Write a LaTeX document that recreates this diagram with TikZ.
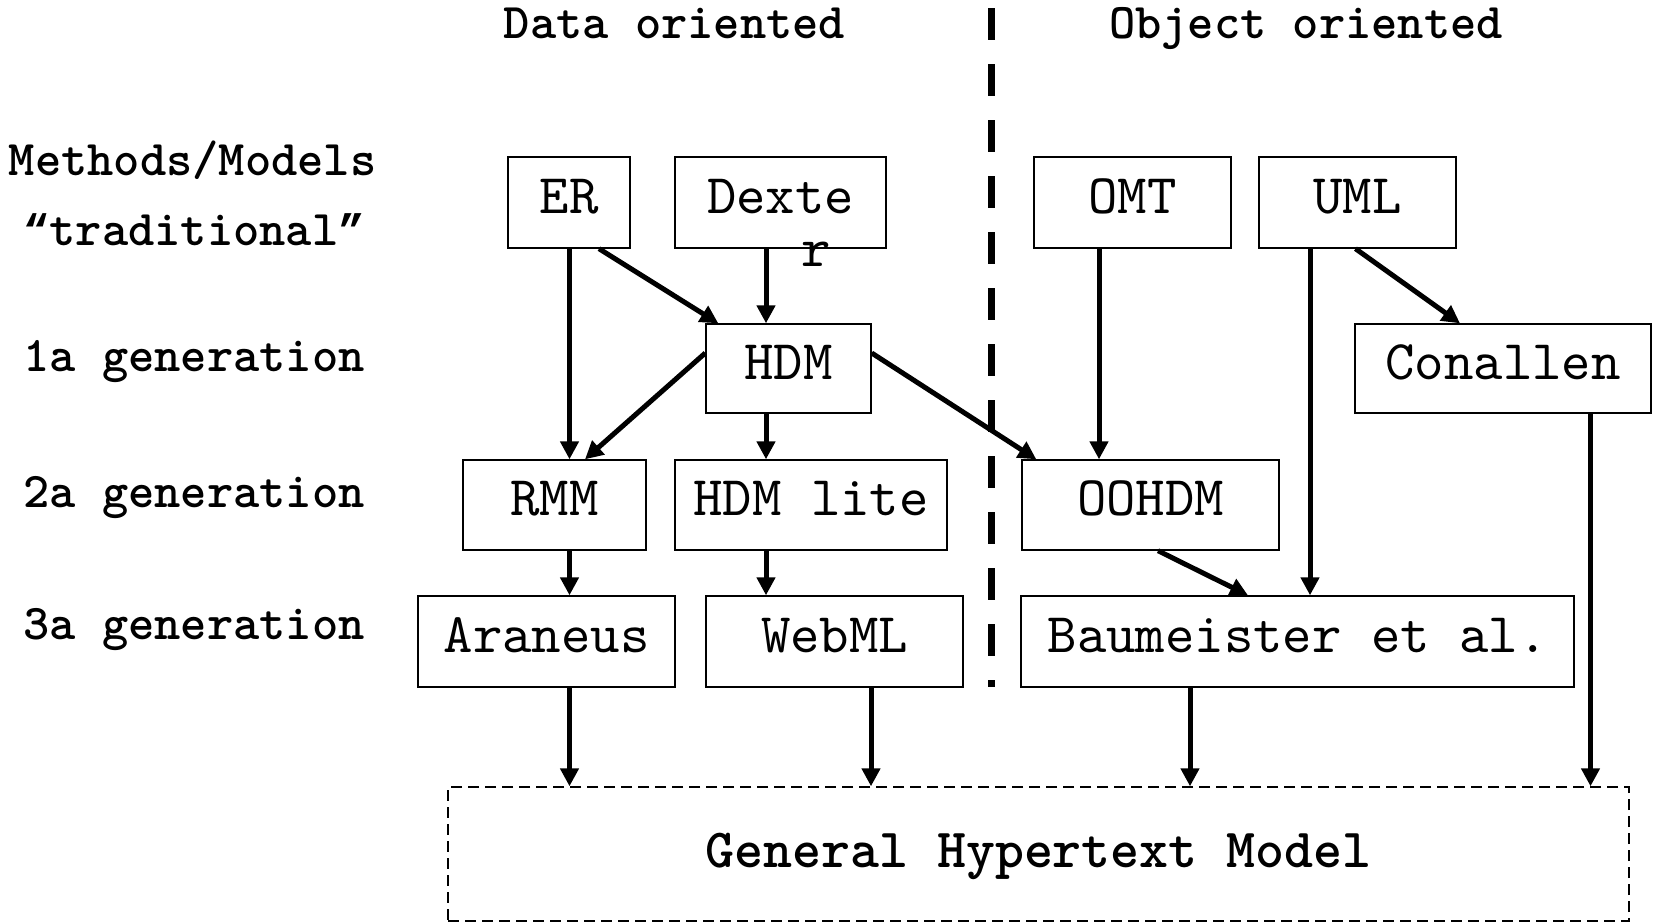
\documentclass[tikz,border=0pt]{standalone}
\usepackage{fontspec}
\setmonofont{lmmono10-regular.otf}[BoldFont=lmmonolt10-bold.otf]
\newfontfamily\quotefont{Liberation Mono}
\usetikzlibrary{arrows.meta,calc}
\newcommand{\cq}[1]{{\quotefont\bfseries\fontsize{22}{30}\selectfont #1}}
\begin{document}
\begin{tikzpicture}[x=0.5pt,y=-0.5pt,
  box/.style={draw, line width=0.7pt, rectangle, inner sep=0pt, text height=18pt, text depth=7.5pt, font=\fontsize{28}{32}\selectfont\ttfamily},
  boxfont/.style={font=\fontsize{28}{32}\selectfont\ttfamily},
  lbl/.style={anchor=base, inner sep=0pt, font=\fontsize{25}{30}\selectfont\ttfamily\bfseries},
  arr/.style={line width=2.5pt, -{Triangle[length=9pt,width=9pt]}},
  divider/.style={line width=3.5pt, dash pattern=on 16pt off 12pt},
  genbox/.style={draw, line width=0.7pt, dash pattern=on 5.5pt off 3pt, rectangle, inner sep=0pt, text height=16pt, text depth=3pt, font=\fontsize{27.6}{32}\selectfont\ttfamily\bfseries}
]
\useasboundingbox (0,0) rectangle (1654,923);
\fill[white] (0,0) rectangle (1654,923);

% headers
\node[lbl] (hdata) at (674.5,38) {Data oriented};
\node[lbl] (hobj) at (1306,38) {Object oriented};

% row labels
\node[lbl] (lmeth) at (192.5,175) {Methods/Models};
\node[lbl] (ltrad) at (194,245) {\cq{“}traditional\cq{”}};
\node[lbl] (l1) at (194,371) {1a generation};
\node[lbl] (l2) at (194,507) {2a generation};
\node[lbl] (l3) at (194,639) {3a generation};

% divider
\coordinate (dtop) at (991.5,8);
\coordinate (dbot) at (991.5,687);
\draw[divider] (dtop) -- (dbot);

% boxes
\node[box, minimum width=61pt, minimum height=45.5pt] (ER) at (569,202.5) {ER};
\node[box, minimum width=105.5pt, minimum height=45.5pt] (Dex) at (780.5,202.5) {Dexte};
\node[boxfont, anchor=base, inner sep=0pt] (dexr) at (816,266) {r};
\node[box, minimum width=98.5pt, minimum height=45.5pt] (OMT) at (1132.5,202.5) {OMT};
\node[box, minimum width=98.5pt, minimum height=45.5pt] (UML) at (1357.5,202.5) {UML};
\node[box, minimum width=82.5pt, minimum height=44.5pt] (HDM) at (788.5,368.5) {HDM};
\node[box, minimum width=148pt, minimum height=44.5pt] (Con) at (1503,368.5) {Conallen};
\node[box, minimum width=91.5pt, minimum height=45pt] (RMM) at (554.5,505) {RMM};
\node[box, minimum width=136pt, minimum height=45pt] (HL) at (811,505) {HDM lite};
\node[box, minimum width=128.5pt, minimum height=45pt] (OO) at (1150.5,505) {OOHDM};
\node[box, minimum width=128.5pt, minimum height=45.5pt] (Ara) at (546.5,641.5) {Araneus};
\node[box, minimum width=128.5pt, minimum height=45.5pt] (Web) at (834.5,641.5) {WebML};
\node[box, minimum width=276.5pt, minimum height=45.5pt] (Bau) at (1297.5,641.5) {Baumeister et al.};
\node[genbox, minimum width=590.5pt, minimum height=67pt] (Gen) at (1038.5,854) {General Hypertext Model};

% connector start points
\coordinate (er1) at ($(ER.south)+(0.5,0)$);
\coordinate (er2) at ($(ER.south)+(30,0)$);
\coordinate (d1) at ($(Dex.south)+(-14.5,0)$);
\coordinate (h1) at ($(HDM.south)+(-22.5,0)$);
\coordinate (hw) at ($(HDM.west)+(0,-15.5)$);
\coordinate (he) at ($(HDM.east)+(0,-15.5)$);
\coordinate (o1) at ($(OMT.south)+(-33.5,0)$);
\coordinate (u1) at ($(UML.south)+(-2,0)$);
\coordinate (u2) at ($(UML.south)+(-47.5,0)$);
\coordinate (oo1) at ($(OO.south)+(7.5,0)$);
\coordinate (r1) at ($(RMM.south)+(15,0)$);
\coordinate (hl1) at ($(HL.south)+(-45,0)$);
\coordinate (a1) at ($(Ara.south)+(23,0)$);
\coordinate (w1) at ($(Web.south)+(36.5,0)$);
\coordinate (b1) at ($(Bau.south)+(-107.5,0)$);
\coordinate (c1) at ($(Con.south)+(87.5,0)$);

% connectors
\draw[arr] (er1) -- (er1 |- RMM.north);
\draw[arr] (er2) -- ($(HDM.north west)+(13,0)$);
\draw[arr] (d1) -- (d1 |- HDM.north);
\draw[arr] (hw) -- ($(RMM.north)+(30.5,0)$);
\draw[arr] (h1) -- (h1 |- HL.north);
\draw[arr] (he) -- ($(OO.north west)+(15,0)$);
\draw[arr] (o1) -- (o1 |- OO.north);
\draw[arr] (u1) -- ($(Con.north)+(-43,0)$);
\draw[arr] (u2) -- (u2 |- Bau.north);
\draw[arr] (oo1) -- ($(Bau.north)+(-49.5,0)$);
\draw[arr] (r1) -- (r1 |- Ara.north);
\draw[arr] (hl1) -- (hl1 |- Web.north);
\draw[arr] (a1) -- (a1 |- Gen.north);
\draw[arr] (w1) -- (w1 |- Gen.north);
\draw[arr] (b1) -- (b1 |- Gen.north);
\draw[arr] (c1) -- (c1 |- Gen.north);
\end{tikzpicture}
\end{document}
